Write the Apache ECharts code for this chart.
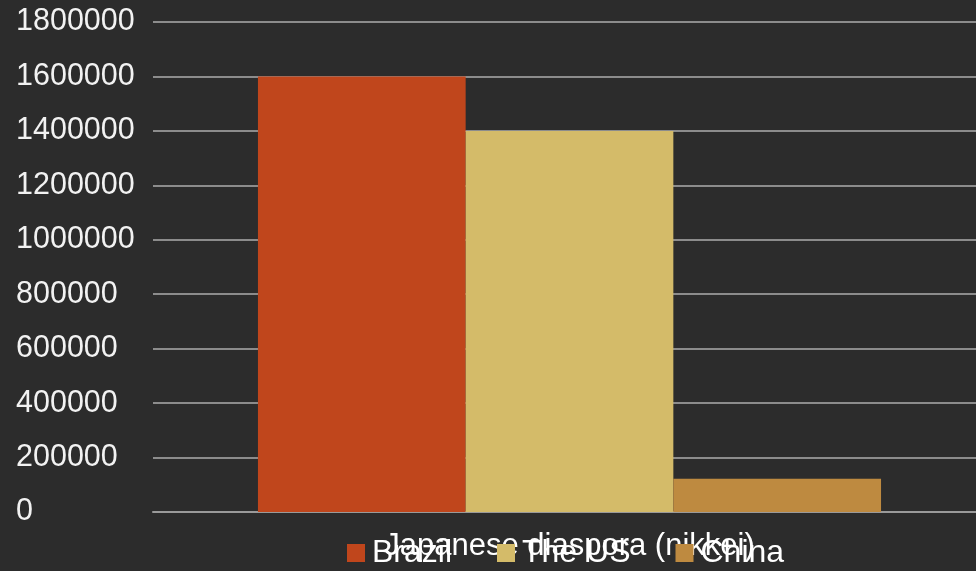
<!DOCTYPE html>
<html>
<head>
<meta charset="utf-8">
<title>Japanese diaspora (nikkei)</title>
<script src="https://cdn.jsdelivr.net/npm/echarts@6/dist/echarts.min.js"></script>
<style>
  html, body { margin: 0; padding: 0; background: #2c2c2c; }
  #chart { width: 976px; height: 571px; }
</style>
</head>
<body>
<div id="chart"></div>
<script>
// Nikkei population by country
const categories = ['Japanese diaspora (nikkei)'];
const countries = ['Brazil', 'The US', 'China'];
const brazil = [1600000];
const theUS = [1400000];
const china = [122000];
const yTicks = { min: 0, max: 1800000, interval: 200000 };

const colors = ['#c0461c', '#d4bb69', '#be8a40'];
const seriesValues = [brazil, theUS, china];

const chart = echarts.init(document.getElementById('chart'));
chart.setOption({
  backgroundColor: '#2c2c2c',
  animation: false,
  textStyle: { fontFamily: 'Liberation Sans, Arial, sans-serif' },
  // plot area runs a little past the right edge of the canvas
  grid: {
    left: 153, width: 833, top: 22, bottom: 59,
    containLabel: false, outerBoundsMode: 'none'
  },
  legend: {
    data: countries,
    top: 532,
    left: 342,
    itemWidth: 18,
    itemHeight: 18,
    itemGap: 45,
    icon: 'rect',
    textStyle: { color: '#ffffff', fontSize: 32, lineHeight: 32, padding: [0, 0, 0, 2] }
  },
  xAxis: {
    type: 'category',
    data: categories,
    axisLine: { show: true, lineStyle: { color: '#9a9a9a', width: 2 } },
    axisTick: { show: false },
    axisLabel: { color: '#ffffff', fontSize: 31, lineHeight: 31, margin: 19 }
  },
  yAxis: {
    type: 'value',
    min: yTicks.min,
    max: yTicks.max,
    interval: yTicks.interval,
    axisLine: { show: false },
    axisTick: { show: false },
    axisLabel: {
      color: '#f2f2f2', fontSize: 30.5, align: 'left', margin: 137,
      formatter: v => String(v)
    },
    splitLine: { lineStyle: { color: '#8c8c8c', width: 2 } }
  },
  series: countries.map((name, i) => ({
    name: name,
    type: 'bar',
    data: seriesValues[i],
    barGap: '0%',
    barCategoryGap: '25.2%',
    itemStyle: { color: colors[i] }
  }))
});
</script>
</body>
</html>
